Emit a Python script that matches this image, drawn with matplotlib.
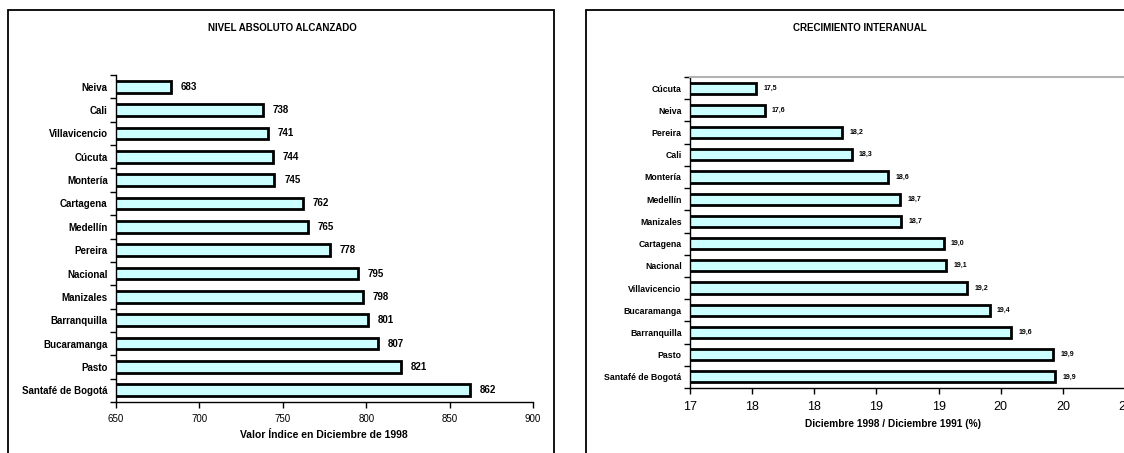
import numpy as np
import matplotlib
matplotlib.use("Agg")
import matplotlib.pyplot as plt
from matplotlib.patches import Rectangle

plt.rcParams['font.family'] = ['Liberation Sans', 'DejaVu Sans']

# ---- data: nivel absoluto (indice dic 1998) ----
ciudades_nivel = ["Neiva", "Cali", "Villavicencio", "Cúcuta", "Montería", "Cartagena",
                  "Medellín", "Pereira", "Nacional", "Manizales", "Barranquilla",
                  "Bucaramanga", "Pasto", "Santafé de Bogotá"]
nivel = [683, 738, 741, 744, 745, 762, 765, 778, 795, 798, 801, 807, 821, 862]
nivel_ticks = [650, 700, 750, 800, 850, 900]

# ---- data: crecimiento interanual (%) ----
ciudades_crec = ["Cúcuta", "Neiva", "Pereira", "Cali", "Montería", "Medellín", "Manizales",
                 "Cartagena", "Nacional", "Villavicencio", "Bucaramanga", "Barranquilla",
                 "Pasto", "Santafé de Bogotá"]
crec = [17.53, 17.60, 18.22, 18.30, 18.59, 18.69, 18.70, 19.04, 19.06, 19.23, 19.41,
        19.58, 19.92, 19.94]
crec_ticks = [17.0, 17.5, 18.0, 18.5, 19.0, 19.5, 20.0, 20.5]
crec_ticklabels = ["17", "18", "18", "19", "19", "20", "20", "21"]

W, H = 1124, 453
fig = plt.figure(figsize=(W / 100, H / 100), dpi=100)


def px(x0, y0, x1, y1):
    # pixel box (top-left origin) -> figure fraction rect
    return [x0 / W, 1 - y1 / H, (x1 - x0) / W, (y1 - y0) / H]


# panel frames
for x0, x1 in [(8, 554), (586, 1134)]:
    fig.patches.append(Rectangle((x0 / W, -0.05), (x1 - x0) / W, 1.05 - 10 / H,
                                 transform=fig.transFigure, fill=False,
                                 edgecolor="black", linewidth=1.3))


def barras(ax, cats, vals, fmt, lab_size, val_size, off):
    n = len(cats)
    y = np.arange(n)
    ax.barh(y, vals, height=0.5, color="#CCFFFF", edgecolor="black", linewidth=2)
    ax.set_ylim(n - 0.5, -0.5)
    ax.set_yticks(y)
    ax.set_yticklabels(cats, fontsize=lab_size, fontweight="bold")
    ax.set_yticks(np.arange(n + 1) - 0.5, minor=True)
    ax.tick_params(axis="y", which="major", length=0, pad=6)
    ax.tick_params(axis="y", which="minor", length=4, width=1, direction="out")
    for yi, v in zip(y, vals):
        ax.text(v + off, yi, fmt(v), va="center", ha="left",
                fontsize=val_size, fontweight="bold")
    ax.spines["right"].set_visible(False)
    ax.spines["left"].set_linewidth(1)
    ax.spines["bottom"].set_linewidth(1)


# ---- left panel ----
ax1 = fig.add_axes(px(116, 75, 533, 402))
barras(ax1, ciudades_nivel, nivel, lambda v: "%d" % v, 7, 7, 6)
ax1.set_xlim(650, 900)
ax1.set_xticks(nivel_ticks)
ax1.tick_params(axis="x", length=4, width=1, labelsize=7, pad=5)
ax1.spines["top"].set_visible(False)
fig.text(282 / W, 1 - 28 / H, "NIVEL ABSOLUTO ALCANZADO", ha="center", va="center",
         fontsize=7, fontweight="bold")
fig.text(324 / W, 1 - 435 / H, "Valor Índice en Diciembre de 1998", ha="center",
         va="center", fontsize=7.5, fontweight="bold")

# ---- right panel ----
ax2 = fig.add_axes(px(690, 77, 1125, 388))
barras(ax2, ciudades_crec, crec, lambda v: ("%.1f" % v).replace(".", ","), 6.3, 5, 0.06)
ax2.set_xlim(17, 20.5)
ax2.set_xticks(crec_ticks)
ax2.set_xticklabels(crec_ticklabels)
ax2.tick_params(axis="x", length=4, width=1, labelsize=9, pad=5)
ax2.spines["top"].set_color("#b3b3b3")
ax2.spines["top"].set_linewidth(1.5)
fig.text(860 / W, 1 - 28 / H, "CRECIMIENTO INTERANUAL", ha="center", va="center",
         fontsize=7, fontweight="bold")
fig.text(893 / W, 1 - 424 / H, "Diciembre 1998 / Diciembre 1991 (%)", ha="center",
         va="center", fontsize=7.3, fontweight="bold")

fig.savefig("out.png", dpi=100)
